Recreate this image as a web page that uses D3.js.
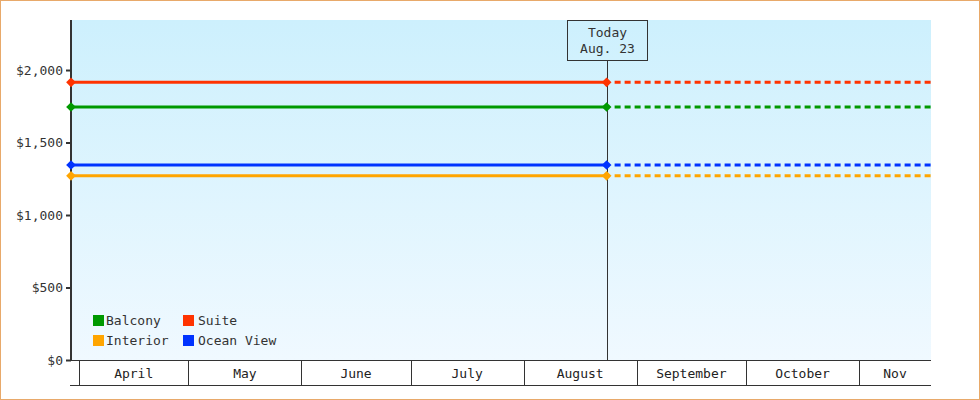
<!DOCTYPE html>
<html>
<head>
<meta charset="utf-8">
<script src="https://cdn.jsdelivr.net/npm/d3@7"></script>
<style>
  body { margin: 0; background: #fff; }
  svg { display: block; font-family: "DejaVu Sans Mono", monospace; }
</style>
</head>
<body>
<div id="chart"></div>
<script>
// cabins and prices
const categories = ["Balcony", "Suite", "Interior", "Ocean View"];
const prices = [1745, 1915, 1270, 1345];
const colors = ["#009900", "#ff3300", "#ffa500", "#0033ff"];

// time range of the chart
const startDate = new Date(2023, 2, 29, 19);
const todayDate = new Date(2023, 7, 23, 18);
const endDate = new Date(2023, 10, 20, 18);
const todayLabel = ["Today", "Aug. 23"];

const monthStarts = [new Date(2023, 3, 1), new Date(2023, 4, 1), new Date(2023, 5, 1),
  new Date(2023, 6, 1), new Date(2023, 7, 1), new Date(2023, 8, 1),
  new Date(2023, 9, 1), new Date(2023, 10, 1)];
const monthLabels = ["April", "May", "June", "July", "August", "September", "October", "Nov"];

const yTicks = [0, 500, 1000, 1500, 2000];

const W = 980, H = 400;
const pLeft = 71, pRight = 931, pTop = 20, pBottom = 360;

const svg = d3.select("#chart").append("svg")
  .attr("width", W).attr("height", H);

// fond en dégradé
const grad = svg.append("defs").append("linearGradient")
  .attr("id", "bg").attr("x1", 0).attr("y1", 0).attr("x2", 0).attr("y2", 1);
grad.append("stop").attr("offset", "0%").attr("stop-color", "#cdf0fd");
grad.append("stop").attr("offset", "100%").attr("stop-color", "#f0f9ff");

svg.append("rect")
  .attr("x", 0.5).attr("y", 0.5).attr("width", W - 1).attr("height", H - 1)
  .attr("fill", "#fff").attr("stroke", "#e8a96a");

const x = d3.scaleTime().domain([startDate, endDate]).range([pLeft, pRight]);
const y = d3.scaleLinear().domain([0, 2345]).range([pBottom, pTop]);

svg.append("rect")
  .attr("x", pLeft).attr("y", pTop)
  .attr("width", pRight - pLeft).attr("height", pBottom - pTop)
  .attr("fill", "url(#bg)");

// y axis
const yAxis = svg.append("g")
  .attr("transform", `translate(${pLeft},0)`)
  .call(d3.axisLeft(y).tickValues(yTicks).tickSize(5).tickPadding(3)
    .tickFormat(d => "$" + d3.format(",")(d)));
yAxis.select(".domain").attr("stroke", "#333").attr("stroke-width", 2)
  .attr("d", `M0,${pTop}V${pBottom}`);
yAxis.selectAll(".tick line").attr("stroke", "#333").attr("stroke-width", 2);
yAxis.selectAll(".tick text").attr("font-size", 13).attr("fill", "#333")
  .attr("font-family", "DejaVu Sans Mono, monospace");

// x axis as month cells
const xa = svg.append("g");
xa.append("line").attr("x1", pLeft - 1).attr("x2", pRight)
  .attr("y1", pBottom + 0.5).attr("y2", pBottom + 0.5).attr("stroke", "#333");
xa.append("line").attr("x1", pLeft - 1).attr("x2", pRight)
  .attr("y1", 385.5).attr("y2", 385.5).attr("stroke", "#333");
xa.selectAll(".sep").data(monthStarts).join("line")
  .attr("x1", d => Math.round(x(d)) + 0.5).attr("x2", d => Math.round(x(d)) + 0.5)
  .attr("y1", pBottom).attr("y2", 385)
  .attr("stroke", "#333");
xa.selectAll(".mlab").data(monthLabels).join("text")
  .attr("x", (d, i) => {
    const a = x(monthStarts[i]);
    const b = i + 1 < monthStarts.length ? x(monthStarts[i + 1]) : pRight;
    return (a + b) / 2;
  })
  .attr("y", 378)
  .attr("text-anchor", "middle").attr("font-size", 13).attr("fill", "#222")
  .text(d => d);

// today marker
const tx = Math.round(x(todayDate)) + 0.5;
svg.append("line").attr("x1", tx).attr("x2", tx).attr("y1", 60).attr("y2", pBottom)
  .attr("stroke", "#333");
svg.append("rect").attr("x", tx - 40).attr("y", pTop + 0.5).attr("width", 80).attr("height", 40)
  .attr("fill", "none").attr("stroke", "#333");
svg.selectAll(".tl").data(todayLabel).join("text")
  .attr("x", tx).attr("y", (d, i) => 37 + i * 16)
  .attr("text-anchor", "middle").attr("font-size", 13).attr("fill", "#333")
  .text(d => d);

// series
const series = categories.map((c, i) => ({ name: c, value: prices[i], color: colors[i] }));
const order = [2, 3, 0, 1];

order.forEach(i => {
  const s = series[i];
  const g = svg.append("g");
  g.append("line")
    .attr("x1", x(todayDate) + 8).attr("x2", pRight)
    .attr("y1", y(s.value)).attr("y2", y(s.value))
    .attr("stroke", s.color).attr("stroke-width", 3)
    .attr("stroke-dasharray", "6,4");
  g.append("line")
    .attr("x1", x(startDate)).attr("x2", x(todayDate))
    .attr("y1", y(s.value)).attr("y2", y(s.value))
    .attr("stroke", s.color).attr("stroke-width", 3);
  g.selectAll("path").data([startDate, todayDate]).join("path")
    .attr("d", d3.symbol(d3.symbolDiamond2, 60))
    .attr("transform", d => `translate(${x(d)},${y(s.value)})`)
    .attr("fill", s.color);
});

// legend
const leg = svg.append("g");
series.forEach((s, i) => {
  const col = i % 2, row = Math.floor(i / 2);
  const lx = 93 + col * 90, ly = 315 + row * 20;
  leg.append("rect").attr("x", lx).attr("y", ly).attr("width", 11).attr("height", 11)
    .attr("fill", s.color);
  leg.append("text").attr("x", lx + 13 + col * 2).attr("y", ly + 10)
    .attr("font-size", 13).attr("fill", "#333").text(s.name);
});
</script>
</body>
</html>
